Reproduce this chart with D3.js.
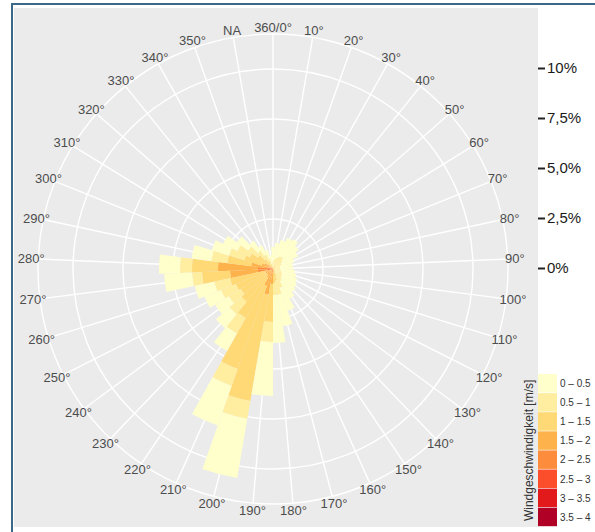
<!DOCTYPE html>
<html><head><meta charset="utf-8">
<script src="https://cdn.jsdelivr.net/npm/d3@7"></script>
<style>body{margin:0;background:#fff}svg{display:block}</style>
</head><body>
<svg id="c" width="595" height="532"></svg>
<script>
const directions = ["360/0°","10°","20°","30°","40°","50°","60°","70°","80°","90°","100°","110°","120°","130°","140°","150°","160°","170°","180°","190°","200°","210°","220°","230°","240°","250°","260°","270°","280°","290°","300°","310°","320°","330°","340°","350°","NA"];
const speedClasses = ["0 – 0.5","0.5 – 1","1 – 1.5","1.5 – 2","2 – 2.5","2.5 – 3","3 – 3.5","3.5 – 4"];
const speedColors = ["#ffffcc","#ffeda0","#fed976","#feb24c","#fd8d3c","#fc4e2a","#e31a1c","#b10026"];
// frequency (%) per direction, one array per speed class
const s0_05  = [0.7,0.8,0.9,1.0,1.05,1.0,0.9,0.7,0.65,0.65,0.7,0.75,0.8,0.85,0.9,1.0,1.2,1.6,2.4,2.7,3.0,2.1,1.0,0.9,0.8,0.9,1.0,1.4,1.05,1.0,0.9,0.8,0.7,0.6,0.5,0.45,0.4];
const s05_1  = [0.3,0.4,0.45,0.5,0.55,0.45,0.4,0.3,0.3,0.3,0.3,0.35,0.4,0.42,0.45,0.5,0.6,0.7,0.6,1.0,0.9,0.9,0.9,0.8,0.7,0.8,0.8,0.5,0.6,0.8,0.8,0.7,0.6,0.5,0.4,0.3,0.2];
const s1_15  = [0.1,0.1,0.15,0.2,0.2,0.15,0.1,0.1,0.05,0.05,0.1,0.1,0.1,0.13,0.15,0.2,0.3,0.45,0.45,1.9,5.4,4.4,2.3,1.7,1.5,1.6,1.8,1.4,1.3,1.2,0.9,0.8,0.6,0.4,0.3,0.2,0.1];
const s15_2  = [0,0,0,0,0,0,0,0,0,0,0,0,0,0,0,0,0.1,0.15,0.2,0.6,1.0,0.7,0.4,0.3,0.3,0.3,0.3,1.4,2.0,0.8,0.45,0.4,0.3,0.2,0.1,0.05,0];
const s2_25  = [0,0,0,0,0,0,0,0,0,0,0,0,0,0,0,0,0,0,0.05,0.15,0.3,0.2,0.1,0.1,0.1,0.1,0.1,0.5,0.5,0.25,0.15,0.1,0.05,0,0,0,0];
const s25_3  = [0,0,0,0,0,0,0,0,0,0,0,0,0,0,0,0,0,0,0,0,0,0,0,0,0,0,0,0.2,0.2,0.05,0,0,0,0,0,0,0];
const s3_35  = [0,0,0,0,0,0,0,0,0,0,0,0,0,0,0,0,0,0,0,0,0,0,0,0,0,0,0,0.05,0.05,0,0,0,0,0,0,0,0];
const s35_4  = [0,0,0,0,0,0,0,0,0,0,0,0,0,0,0,0,0,0,0,0,0,0,0,0,0,0,0,0,0,0,0,0,0,0,0,0,0];
const radialTicks = [0, 2.5, 5, 7.5, 10];
const radialTickLabels = ["0%","2,5%","5,0%","7,5%","10%"];
const legendTitle = "Windgeschwindigkeit [m/s]";

const series = [s0_05,s05_1,s1_15,s15_2,s2_25,s25_3,s3_35,s35_4];
const rows = directions.map((d,i)=>{const o={dir:d};speedClasses.forEach((k,j)=>o[k]=series[j][i]);return o;});

const svg = d3.select("#c");
const cx = 273, cy = 269;
const outerR = 235, labelR = 242;
const n = directions.length;
const half = Math.PI / n;
const ang = d3.scaleBand().domain(directions).range([-half, 2*Math.PI - half]).padding(0);
const rad = d3.scaleLinear().domain([0, 10]).range([0, 200]);

// frame
svg.append("rect").attr("x",14).attr("y",8).attr("width",524).attr("height",519).attr("fill","#ebebeb");
svg.append("rect").attr("x",11).attr("y",3).attr("width",584).attr("height",2).attr("fill","#3d6988");
svg.append("rect").attr("x",11).attr("y",3).attr("width",2).attr("height",529).attr("fill","#3d6988");

const g = svg.append("g").attr("transform",`translate(${cx},${cy})`);
g.selectAll("circle.grid").data(radialTicks.filter(t=>t>0)).join("circle")
  .attr("r",d=>rad(d)).attr("fill","none").attr("stroke","#fff").attr("stroke-width",1.4);
g.append("circle").attr("r",outerR).attr("fill","none").attr("stroke","#fff").attr("stroke-width",1.4);
g.selectAll("line.spoke").data(directions).join("line")
  .attr("x1",0).attr("y1",0)
  .attr("x2",d=>outerR*Math.sin(ang(d)+half)).attr("y2",d=>-outerR*Math.cos(ang(d)+half))
  .attr("stroke","#fff").attr("stroke-width",1.4);

const keysInner = speedClasses.slice().reverse();
const stacked = d3.stack().keys(keysInner)(rows);
const colorOf = d3.scaleOrdinal().domain(speedClasses).range(speedColors);
const arc = d3.arc()
  .innerRadius(d=>rad(d[0])).outerRadius(d=>rad(d[1]))
  .startAngle(d=>ang(d.data.dir)).endAngle(d=>ang(d.data.dir)+ang.bandwidth());
g.selectAll("g.layer").data(stacked).join("g").attr("fill",d=>colorOf(d.key))
  .selectAll("path").data(d=>d.filter(e=>e[1]-e[0]>0)).join("path").attr("d",arc);

g.selectAll("text.theta").data(directions).join("text")
  .attr("x",d=>labelR*Math.sin(ang(d)+half)).attr("y",d=>-labelR*Math.cos(ang(d)+half))
  .attr("text-anchor","middle").attr("dominant-baseline","central")
  .attr("font-family","Liberation Sans, Arial, sans-serif").attr("font-size",13).attr("fill","#4d4d4d")
  .text(d=>d);

const yAx = d3.scaleLinear().domain([0,10]).range([cy-1, cy-201]);
const ax = svg.append("g").attr("transform","translate(538,0)")
  .call(d3.axisRight(yAx).tickValues(radialTicks).tickFormat((d,i)=>radialTickLabels[i]).tickSize(7).tickPadding(2));
ax.select(".domain").remove();
ax.selectAll(".tick line").attr("stroke","#222").attr("stroke-width",2);
ax.selectAll(".tick text").attr("font-family","Liberation Sans, Arial, sans-serif").attr("font-size",15).attr("fill","#1a1a1a");

const lg = svg.append("g").attr("transform","translate(538,374)");
const kh = 19.1;
lg.selectAll("rect").data(speedClasses).join("rect")
  .attr("x",0).attr("y",(d,i)=>i*kh).attr("width",19).attr("height",kh-0.6)
  .attr("fill",d=>colorOf(d));
lg.selectAll("text").data(speedClasses).join("text")
  .attr("x",22).attr("y",(d,i)=>i*kh+kh/2).attr("dominant-baseline","central")
  .attr("font-family","Liberation Sans, Arial, sans-serif").attr("font-size",10).attr("fill","#333")
  .text(d=>d);
svg.append("text").attr("transform",`translate(533,${374+4*kh}) rotate(-90)`)
  .attr("text-anchor","middle").attr("font-family","Liberation Sans, Arial, sans-serif")
  .attr("font-size",12).attr("fill","#333").text(legendTitle);
</script>
</body></html>
